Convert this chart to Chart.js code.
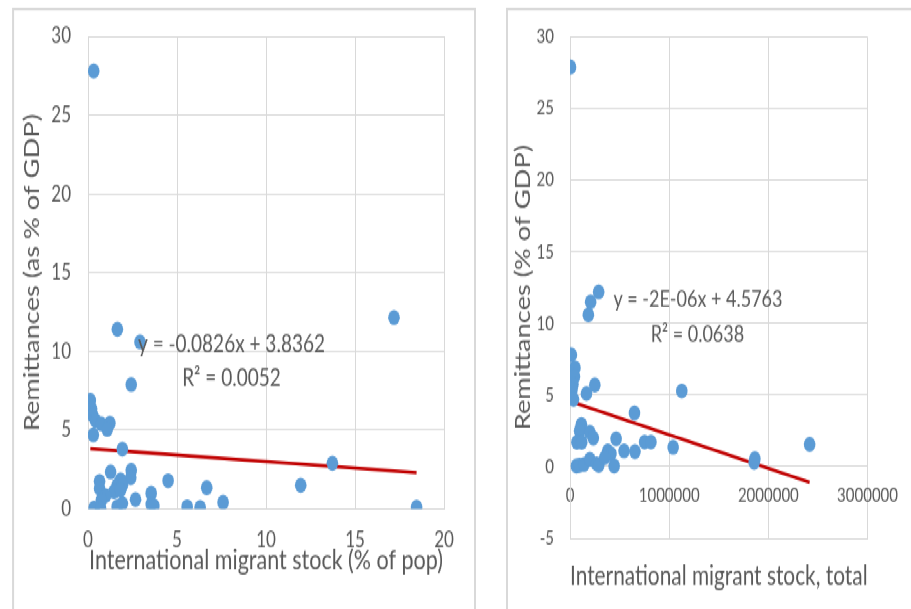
<!DOCTYPE html>
<html>
<head>
<meta charset="utf-8">
<script src="https://cdn.jsdelivr.net/npm/chart.js@4.4.1/dist/chart.umd.min.js"></script>
<style>
  body { margin: 0; background: #fff; overflow: hidden; }
  #stage { position: absolute; left: 0; top: 0; width: 911px; height: 469px; transform: scaleY(1.3); transform-origin: 0 0; }
  .panel { position: absolute; box-sizing: border-box; border: 2px solid #d9d9d9; background: #fff; }
  canvas { position: absolute; }
</style>
</head>
<body>
<div id="stage">
  <div class="panel" style="left:12px; top:6px; width:464px; height:470px;"></div>
  <div class="panel" style="left:506px; top:6px; width:420px; height:470px;"></div>
  <canvas id="share" width="460" height="460" style="left:14px; top:8px;"></canvas>
  <canvas id="total" width="403" height="460" style="left:508px; top:8px;"></canvas>
</div>
<script>
// left chart: migrant stock as % of population
const shareX = [0.32, 1.65, 2.92, 17.19, 2.43, 0.13, 0.2, 0.26, 0.43, 0.75, 1.23, 1.08, 0.3, 1.93,
    13.73, 1.27, 2.43, 2.4, 4.5, 0.65, 0.65, 1.83, 1.64, 1.93, 1.46, 1.83, 0.99, 0.75, 0.34, 0.71,
    1.64, 1.93, 2.67, 3.55, 3.55, 3.7, 5.57, 6.3, 6.67, 7.59, 11.95, 18.46];
const shareY = [27.8, 11.4, 10.6, 12.15, 7.9, 6.9, 6.35, 5.95, 5.6, 5.4, 5.45, 5.05, 4.7, 3.8,
    2.9, 2.35, 2.45, 1.98, 1.8, 1.75, 1.3, 1.85, 1.5, 1.5, 1.1, 1.2, 0.85, 0.55, 0.05, 0.0,
    0.15, 0.35, 0.6, 1.0, 0.3, 0.2, 0.15, 0.1, 1.35, 0.42, 1.5, 0.12];
const shareSlope = -0.0826;
const shareIntercept = 3.8362;
const shareEquation = ['y = -0.0826x + 3.8362', 'R² = 0.0052'];

// right chart: migrant stock, total
const totalX = [5000, 289000, 208000, 185000, 14000, 50000, 45000, 30000, 20000, 35000, 166000, 250000,
    1127000, 650000, 115000, 97000, 200000, 235000, 70000, 118000, 465000, 381000, 413000, 545000,
    655000, 752000, 816000, 1040000, 65000, 95000, 140000, 200000, 268000, 290000, 445000, 350000,
    1857000, 1864000, 2416000];
const totalY = [27.9, 12.2, 11.5, 10.6, 7.8, 6.9, 6.3, 5.75, 5.4, 4.7, 5.1, 5.7,
    5.28, 3.75, 2.95, 2.5, 2.4, 2.0, 1.7, 1.7, 1.95, 1.1, 0.9, 1.1,
    1.05, 1.72, 1.72, 1.35, 0.05, 0.1, 0.15, 0.5, 0.2, 0.1, 0.05, 0.63,
    0.3, 0.55, 1.55];
const totalSlope = -2.35e-6;
const totalIntercept = 4.5763;
const totalEquation = ['y = -2E-06x + 4.5763', 'R² = 0.0638'];

const grey = '#d9d9d9';
const textGrey = '#595959';
const dotBlue = '#5b9bd5';
const fitRed = '#c00000';

Chart.defaults.font.family = 'Lato';
Chart.defaults.color = textGrey;

function points(xs, ys) {
    return xs.map((x, i) => ({x: x, y: ys[i]}));
}

function fitLine(xs, slope, intercept) {
    const lo = Math.min(...xs);
    const hi = Math.max(...xs);
    return [{x: lo, y: slope * lo + intercept}, {x: hi, y: slope * hi + intercept}];
}

// fixed y axis width, and no extra room asked for the end labels
function yFit(width) {
    return (scale) => {
        scale.width = width;
        scale.paddingTop = 0;
        scale.paddingBottom = 0;
    };
}

// draws the trendline equation at a spot given in data units
const eqLabels = {
    id: 'eqLabels',
    afterDatasetsDraw(chart, args, opts) {
        const ctx = chart.ctx;
        const xs = chart.scales.x;
        const ys = chart.scales.y;
        ctx.save();
        ctx.font = opts.size + 'px Lato';
        ctx.fillStyle = textGrey;
        ctx.textAlign = 'center';
        ctx.textBaseline = 'middle';
        opts.lines.forEach(l => {
            ctx.fillText(l.text, xs.getPixelForValue(l.x), ys.getPixelForValue(l.y));
        });
        ctx.restore();
    }
};

const share = document.getElementById('share').getContext('2d');
new Chart(share, {
    type: 'scatter',
    data: {
        datasets: [{
            data: points(shareX, shareY),
            backgroundColor: dotBlue,
            borderColor: dotBlue,
            borderWidth: 0,
            pointRadius: 5.8,
            order: 0
        }, {
            data: fitLine(shareX, shareSlope, shareIntercept),
            showLine: true,
            borderColor: fitRed,
            borderWidth: 2.6,
            pointRadius: 0,
            order: 1
        }]
    },
    options: {
        responsive: false,
        animation: false,
        layout: {padding: {top: 20, right: 30, left: 0, bottom: 0}},
        scales: {
            x: {
                min: 0,
                max: 20,
                afterFit: (scale) => { scale.height = 76.5; },
                ticks: {stepSize: 5, padding: 14, font: {size: 17}},
                grid: {color: grey, drawTicks: false},
                border: {color: grey},
                title: {
                    display: true,
                    text: 'International migrant stock (% of pop)',
                    font: {size: 21.5},
                    padding: {top: 0, bottom: 24}
                }
            },
            y: {
                min: 0,
                max: 30,
                afterFit: yFit(74),
                ticks: {stepSize: 5, padding: 17, font: {size: 17}},
                grid: {color: grey, drawTicks: false},
                border: {color: grey},
                title: {
                    display: true,
                    text: 'Remittances (as % of GDP)',
                    font: {size: 21},
                    padding: {top: 6, bottom: 0}
                }
            }
        },
        plugins: {
            legend: {display: false},
            tooltip: {enabled: false},
            eqLabels: {
                size: 19,
                lines: [
                    {text: shareEquation[0], x: 8.06, y: 10.42},
                    {text: shareEquation[1], x: 8.06, y: 8.3}
                ]
            }
        }
    },
    plugins: [eqLabels]
});

const total = document.getElementById('total').getContext('2d');
new Chart(total, {
    type: 'scatter',
    data: {
        datasets: [{
            data: points(totalX, totalY),
            backgroundColor: dotBlue,
            borderColor: dotBlue,
            borderWidth: 0,
            pointRadius: 5.8,
            order: 0
        }, {
            data: fitLine(totalX, totalSlope, totalIntercept),
            showLine: true,
            borderColor: fitRed,
            borderWidth: 2.6,
            pointRadius: 0,
            order: 1
        }]
    },
    options: {
        responsive: false,
        animation: false,
        layout: {padding: {top: 20.5, right: 33, left: 0, bottom: 0}},
        scales: {
            x: {
                min: 0,
                max: 3000000,
                afterFit: (scale) => { scale.height = 54; },
                ticks: {display: false, stepSize: 1000000},
                grid: {color: grey, drawTicks: false},
                border: {color: grey},
                title: {
                    display: true,
                    text: 'International migrant stock, total',
                    font: {size: 21},
                    padding: {top: 0, bottom: 12}
                }
            },
            // tick labels sit on the zero line, like the Excel axis crossing
            x2: {
                type: 'linear',
                axis: 'x',
                position: {y: 0},
                min: 0,
                max: 3000000,
                ticks: {
                    stepSize: 1000000,
                    padding: 13,
                    font: {size: 15},
                    maxRotation: 0,
                    callback: (v) => String(v)
                },
                grid: {display: false, drawTicks: false},
                border: {display: false}
            },
            y: {
                min: -5,
                max: 30,
                afterFit: yFit(62),
                ticks: {stepSize: 5, padding: 16, font: {size: 15}},
                grid: {color: grey, drawTicks: false},
                border: {color: grey},
                title: {
                    display: true,
                    text: 'Remittances (% of GDP)',
                    font: {size: 21},
                    padding: {top: 3, bottom: 0}
                }
            }
        },
        plugins: {
            legend: {display: false},
            tooltip: {enabled: false},
            eqLabels: {
                size: 18,
                lines: [
                    {text: totalEquation[0], x: 1290000, y: 11.68},
                    {text: totalEquation[1], x: 1285000, y: 9.27}
                ]
            }
        }
    },
    plugins: [eqLabels]
});
</script>
</body>
</html>
